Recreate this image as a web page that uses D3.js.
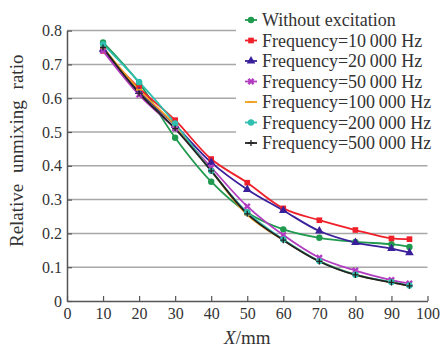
<!DOCTYPE html>
<html>
<head>
<meta charset="utf-8">
<script src="https://cdn.jsdelivr.net/npm/d3@7"></script>
<style>
  body { margin: 0; background: #fff; }
  svg text { font-family: "Liberation Serif", "Times New Roman", serif; fill: #333; }
</style>
</head>
<body>
<div id="chart"></div>
<script>
// distance along X, mm
var xValues = [10, 20, 30, 40, 50, 60, 70, 80, 90, 95];
var seriesNames = ['Without excitation', 'Frequency=10\u2009000 Hz', 'Frequency=20\u2009000 Hz',
  'Frequency=50\u2009000 Hz', 'Frequency=100\u2009000 Hz', 'Frequency=200\u2009000 Hz', 'Frequency=500\u2009000 Hz'];
var noExcitation = [0.765, 0.645, 0.483, 0.353, 0.262, 0.212, 0.187, 0.175, 0.168, 0.160];
var freq10k = [0.740, 0.630, 0.535, 0.420, 0.350, 0.274, 0.239, 0.210, 0.185, 0.183];
var freq20k = [0.745, 0.620, 0.520, 0.410, 0.330, 0.268, 0.207, 0.173, 0.155, 0.143];
var freq50k = [0.740, 0.610, 0.510, 0.395, 0.280, 0.195, 0.128, 0.090, 0.062, 0.052];
var freq100k = [0.750, 0.625, 0.520, 0.385, 0.255, 0.180, 0.118, 0.078, 0.055, 0.045];
var freq200k = [0.760, 0.648, 0.525, 0.385, 0.262, 0.182, 0.118, 0.078, 0.056, 0.046];
var freq500k = [0.750, 0.615, 0.510, 0.385, 0.258, 0.180, 0.117, 0.077, 0.055, 0.045];
var xTicks = [0, 10, 20, 30, 40, 50, 60, 70, 80, 90, 100];
var yTicks = [0, 0.1, 0.2, 0.3, 0.4, 0.5, 0.6, 0.7, 0.8];

var allSeries = [noExcitation, freq10k, freq20k, freq50k, freq100k, freq200k, freq500k];
var colors = ['#1f9a4e', '#f0202a', '#3a1f9a', '#b23cc0', '#f0a020', '#2fbfb0', '#222222'];
var symbols = [d3.symbolCircle, d3.symbolSquare, d3.symbolTriangle, d3.symbolCross, null, d3.symbolCircle, null];

var width = 448, height = 349;
var margin = { top: 30.6, right: 20.5, bottom: 48, left: 67 };

var svg = d3.select('#chart').append('svg')
  .attr('width', width)
  .attr('height', height);

var x = d3.scaleLinear().domain([0, 100]).range([margin.left, width - margin.right]);
var y = d3.scaleLinear().domain([0, 0.8]).range([height - margin.bottom, margin.top]);

// grid
svg.append('g')
  .selectAll('line')
  .data(yTicks.filter(function (d) { return d > 0; }))
  .enter().append('line')
  .attr('x1', x(0)).attr('x2', x(100))
  .attr('y1', function (d) { return y(d); })
  .attr('y2', function (d) { return y(d); })
  .style('stroke', '#a8a8a8')
  .style('stroke-width', 1.5);

// axes
var xAxis = svg.append('g')
  .attr('transform', 'translate(0,' + y(0) + ')')
  .call(d3.axisBottom(x).tickValues(xTicks).tickSize(-5).tickSizeOuter(0).tickPadding(7));
var yAxis = svg.append('g')
  .attr('transform', 'translate(' + x(0) + ',0)')
  .call(d3.axisLeft(y).tickValues(yTicks).tickSize(-5).tickSizeOuter(0).tickPadding(5)
    .tickFormat(function (d) { return d === 0 ? '0' : d3.format('.1f')(d); }));
[xAxis, yAxis].forEach(function (a) {
  a.select('.domain').style('stroke', '#555').style('stroke-width', 1.5);
  a.selectAll('.tick line').style('stroke', '#555').style('stroke-width', 1.2);
  a.selectAll('text').style('font-size', '16px').style('font-family', '"Liberation Serif", serif').style('fill', '#333');
});

// series
var line = d3.line()
  .x(function (d, i) { return x(xValues[i]); })
  .y(function (d) { return y(d); })
  .curve(d3.curveCatmullRom.alpha(0.5));

allSeries.forEach(function (vals, k) {
  svg.append('path')
    .datum(vals)
    .attr('d', line)
    .style('fill', 'none')
    .style('stroke', colors[k])
    .style('stroke-width', 1.8);
});
allSeries.forEach(function (vals, k) {
  var g = svg.append('g');
  vals.forEach(function (v, i) {
    drawMarker(g, x(xValues[i]), y(v), k);
  });
});

function drawMarker(g, cx, cy, k) {
  if (symbols[k]) {
    g.append('path')
      .attr('transform', 'translate(' + cx + ',' + cy + ')' + (k === 3 ? ' rotate(45)' : ''))
      .attr('d', d3.symbol().type(symbols[k]).size(k === 3 ? 30 : 32)())
      .style('fill', colors[k]);
  } else if (k === 6) {
    g.append('path')
      .attr('d', 'M' + (cx - 3) + ',' + cy + 'H' + (cx + 3) + 'M' + cx + ',' + (cy - 3) + 'V' + (cy + 3))
      .style('stroke', colors[k]).style('stroke-width', 1.3);
  } else {
    g.append('path')
      .attr('d', 'M' + (cx - 3) + ',' + cy + 'H' + (cx + 3))
      .style('stroke', colors[k]).style('stroke-width', 2);
  }
}

// legend
var lg = svg.append('g').attr('transform', 'translate(236,8)');
lg.append('rect')
  .attr('width', 210).attr('height', 145)
  .style('fill', '#fff');
seriesNames.forEach(function (name, k) {
  var ly = 12 + k * 20.5;
  lg.append('line')
    .attr('x1', 9).attr('x2', 21).attr('y1', ly).attr('y2', ly)
    .style('stroke', colors[k]).style('stroke-width', 1.8);
  drawMarker(lg, 15, ly, k);
  lg.append('text')
    .attr('x', 26).attr('y', ly)
    .attr('dy', '0.35em')
    .style('font-size', '18px')
    .text(name);
});

// axis titles
var xt = svg.append('text')
  .attr('x', (x(0) + x(100)) / 2)
  .attr('y', 344)
  .attr('text-anchor', 'middle')
  .style('font-size', '19px');
xt.append('tspan').style('font-style', 'italic').text('X');
xt.append('tspan').text('/mm');

svg.append('text')
  .attr('transform', 'translate(23,' + ((y(0) + y(0.8)) / 2 - 15) + ') rotate(-90)')
  .attr('text-anchor', 'middle')
  .style('font-size', '19px')
  .style('word-spacing', '6px')
  .text('Relative unmixing ratio');
</script>
</body>
</html>
